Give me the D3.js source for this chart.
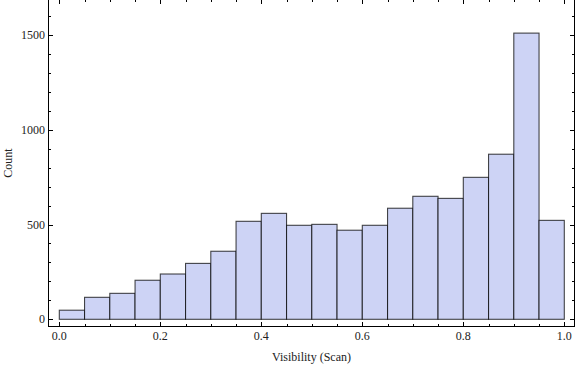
<!DOCTYPE html>
<html lang="en">
<head>
	<meta charset="UTF-8">
	<title>Visibility histogram</title>
	<script type="text/javascript" src="https://cdn.jsdelivr.net/npm/d3@7/dist/d3.min.js"></script>
	<style>
		body { margin: 0; background: #fff; }
		text { font-family: "Liberation Serif", "DejaVu Serif", serif; font-size: 12px; fill: #222; }
	</style>
</head>
<body>
	<div class="chart"></div>
	<script type="text/javascript">
		// bin edges (width 0.05) and counts
		var binStarts = [0,0.05,0.1,0.15,0.2,0.25,0.3,0.35,0.4,0.45,0.5,0.55,0.6,0.65,0.7,0.75,0.8,0.85,0.9,0.95];
		var binWidth = 0.05;
		var counts = [48,116,137,206,239,295,359,517,559,496,501,470,496,586,649,638,749,871,1510,522];
		var xTicks = [0,0.2,0.4,0.6,0.8,1.0];
		var yTicks = [0,500,1000,1500];

		var W = 576, H = 366;
		var svg = d3.select('.chart').append('svg')
			.attr('width',W).attr('height',H);

		var x = d3.scaleLinear().domain([0,1]).range([59.3,564.3]);
		var y = d3.scaleLinear().domain([0,1500]).range([319.3,35]);

		// frame box (note: "top" is reserved on window, so use other names)
		var fL = 48.5, fR = 574.5, fT = -0.5, fB = 326.5;

		// bars
		svg.append('g').selectAll('rect').data(counts)
			.enter()
			.append('rect')
			.attr('x',function(d,i){ return x(binStarts[i]); })
			.attr('y',function(d){ return y(d); })
			.attr('width',function(d,i){ return x(binStarts[i] + binWidth) - x(binStarts[i]); })
			.attr('height',function(d){ return y(0) - y(d); })
			.attr('fill','#cdd3f5')
			.attr('stroke','rgba(0,0,0,0.72)')
			.attr('stroke-width',1.1);

		svg.append('rect')
			.attr('x',fL).attr('y',fT)
			.attr('width',fR-fL).attr('height',fB-fT)
			.attr('fill','none').attr('stroke','#000').attr('stroke-width',1);

		var xMinor = d3.range(0,1.0001,0.05);
		var yMinor = d3.range(0,1601,100);

		var ticks = svg.append('g').attr('stroke','#000').attr('stroke-width',1);
		// x ticks, bottom and top, pointing inward
		xMinor.forEach(function(v){
			var major = xTicks.some(function(t){ return Math.abs(t-v) < 1e-6; });
			var len = major ? 4.5 : 2.5;
			var px = Math.round(x(v)) + 0.5;
			ticks.append('line').attr('x1',px).attr('x2',px).attr('y1',fB).attr('y2',fB-len);
			ticks.append('line').attr('x1',px).attr('x2',px).attr('y1',fT).attr('y2',fT+len);
		});
		// y ticks, left and right
		yMinor.forEach(function(v){
			var major = yTicks.indexOf(v) >= 0;
			var len = major ? 4.5 : 2.5;
			var py = Math.round(y(v)) + 0.5;
			ticks.append('line').attr('y1',py).attr('y2',py).attr('x1',fL).attr('x2',fL+len);
			ticks.append('line').attr('y1',py).attr('y2',py).attr('x1',fR).attr('x2',fR-len);
		});

		// tick labels
		svg.append('g').selectAll('text').data(xTicks)
			.enter()
			.append('text')
			.attr('x',function(d){ return x(d); })
			.attr('y',340)
			.attr('text-anchor','middle')
			.text(function(d){ return d3.format('.1f')(d); });

		svg.append('g').selectAll('text').data(yTicks)
			.enter()
			.append('text')
			.attr('x',45)
			.attr('y',function(d){ return y(d) + 4; })
			.attr('text-anchor','end')
			.text(function(d){ return d; });

		// axis labels
		svg.append('text')
			.attr('x',(fL+fR)/2).attr('y',361)
			.attr('text-anchor','middle')
			.text('Visibility (Scan)');

		svg.append('text')
			.attr('transform','translate(12,' + ((fT+fB)/2) + ') rotate(-90)')
			.attr('text-anchor','middle')
			.text('Count');
	</script>
</body>
</html>
